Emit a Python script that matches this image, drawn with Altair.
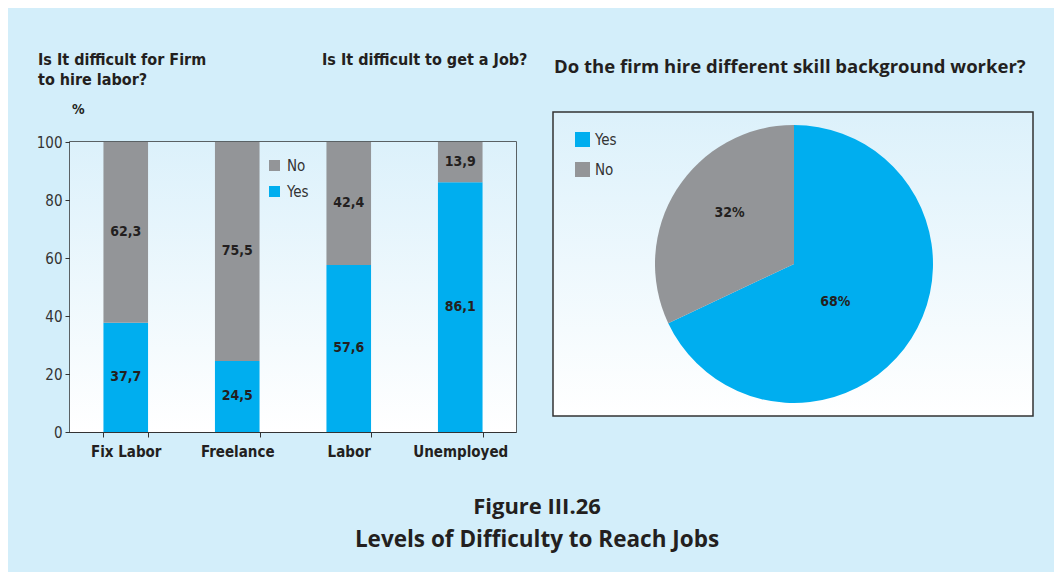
import altair as alt
import pandas as pd

categories = ["Fix Labor", "Freelance", "Labor", "Unemployed"]
yes_vals = [37.7, 24.5, 57.6, 86.1]
no_vals = [62.3, 75.5, 42.4, 13.9]
pie_labels = ["Yes", "No"]
pie_vals = [68, 32]

BLUE = "#00aeef"
GREY = "#939598"
BG = "#d3eefa"
TXT = "#231f20"
NARROW = "DejaVu Sans Condensed, Roboto"
MAIN = "Open Sans"

rows = []
for c, y, n in zip(categories, yes_vals, no_vals):
    rows.append({"cat": c, "answer": "Yes", "val": y, "ord": 0, "mid": y / 2,
                 "lbl": f"{y:.1f}".replace(".", ",")})
    rows.append({"cat": c, "answer": "No", "val": n, "ord": 1, "mid": y + n / 2,
                 "lbl": f"{n:.1f}".replace(".", ",")})
bars_df = pd.DataFrame(rows)

pie_df = pd.DataFrame({"pans": pie_labels, "pval": pie_vals, "pord": [0, 1],
                       "plbl": [f"{v}%" for v in pie_vals]})

one = pd.DataFrame({"k": [0]})

W, H = 446, 290

grad = alt.Gradient(gradient="linear", x1=0, y1=0, x2=0, y2=1,
                    stops=[alt.GradientStop(offset=0, color="#dcf1fb"),
                           alt.GradientStop(offset=1, color="#ffffff")])

plot_bg = alt.Chart(one).mark_rect(fill=grad).encode(
    x=alt.value(0), x2=alt.value(W), y=alt.value(0), y2=alt.value(H))

pie_box = alt.Chart(one).mark_rect(fill=grad, stroke="#333333", strokeWidth=1.5).encode(
    x=alt.value(483), x2=alt.value(963), y=alt.value(-30), y2=alt.value(274))

xenc = alt.X("cat:N", sort=categories, title=None,
             scale=alt.Scale(paddingInner=0.6, paddingOuter=0.3),
             axis=alt.Axis(labelFont=NARROW, labelFontSize=15, labelFontWeight="bold",
                           labelColor=TXT, tickBand="extent", tickSize=5, tickColor="#333333",
                           domainColor="#333333", labelPadding=7, labelAngle=0))

bars = alt.Chart(bars_df).mark_bar().encode(
    x=xenc,
    y=alt.Y("val:Q", stack="zero", title=None,
            scale=alt.Scale(domain=[0, 100], nice=False),
            axis=alt.Axis(values=[0, 20, 40, 60, 80, 100], grid=False, labelFont=NARROW,
                          labelFontSize=15, labelColor="#333333", tickSize=5,
                          tickColor="#333333", domainColor="#333333", labelPadding=3)),
    color=alt.Color("answer:N", scale=alt.Scale(domain=["No", "Yes"], range=[GREY, BLUE]),
                    legend=alt.Legend(title=None, orient="none", legendX=197, legendY=16,
                                      symbolType="square", symbolSize=121, labelFont=NARROW,
                                      labelFontSize=15, labelColor="#333333", rowPadding=10,
                                      padding=0, labelOffset=5, symbolStrokeWidth=0)),
    order=alt.Order("ord:Q"),
)

bar_text = alt.Chart(bars_df).mark_text(font=NARROW, fontSize=14, fontWeight="bold",
                                        color=TXT).encode(
    x=alt.X("cat:N", sort=categories),
    y=alt.Y("mid:Q"),
    text="lbl:N",
)

pie = alt.Chart(pie_df).mark_arc().encode(
    theta=alt.Theta("pval:Q", stack=True),
    color=alt.Color("pans:N", scale=alt.Scale(domain=["Yes", "No"], range=[BLUE, GREY]),
                    legend=alt.Legend(title=None, orient="none", legendX=505, legendY=-10,
                                      symbolType="square", symbolSize=225, labelFont=NARROW,
                                      labelFontSize=15, labelColor="#333333", rowPadding=14,
                                      padding=0, labelOffset=5, symbolStrokeWidth=0)),
    order=alt.Order("pord:Q"),
    x=alt.value(724), y=alt.value(122), radius=alt.value(139),
)

pie_yes = alt.Chart(pie_df).transform_calculate(
    t="datum.pans == 'Yes' ? datum.plbl : ''").mark_text(
    font=NARROW, fontSize=14, fontWeight="bold", color=TXT, dx=-6, dy=8).encode(
    theta=alt.Theta("pval:Q", stack=True), order=alt.Order("pord:Q"),
    x=alt.value(724), y=alt.value(122), radius=alt.value(56), text="t:N")

pie_no = alt.Chart(pie_df).transform_calculate(
    t="datum.pans == 'No' ? datum.plbl : ''").mark_text(
    font=NARROW, fontSize=14, fontWeight="bold", color=TXT, dx=3, dy=-8).encode(
    theta=alt.Theta("pval:Q", stack=True), order=alt.Order("pord:Q"),
    x=alt.value(724), y=alt.value(122), radius=alt.value(80), text="t:N")

def label(txt, x, y, size, font, align="left", weight="bold"):
    return alt.Chart(one).mark_text(text=txt, font=font, fontSize=size, fontWeight=weight,
                                    color=TXT, align=align, baseline="alphabetic",
                                    lineHeight=20).encode(x=alt.value(x), y=alt.value(y))

t1 = label(["Is It difficult for Firm", "to hire labor?"], -32, -77, 16, NARROW)
t2 = label("Is It difficult to get  a Job?", 252, -77, 16, NARROW)
pct = label("%", 2, -28, 14, NARROW)
t3 = label("Do the firm hire different skill background worker?", 484, -69, 18.5, MAIN)
f1 = label("Figure III.26", 467, 372, 22, MAIN, align="center")
f2 = label("Levels of Difficulty to Reach Jobs", 467, 405, 22.5, MAIN, align="center")

chart = alt.layer(plot_bg, bars, bar_text, pie_box, pie, pie_yes, pie_no,
                  t1, t2, pct, t3, f1, f2).resolve_scale(color="independent").properties(
    width=W, height=H,
    autosize=alt.AutoSizeParams(type="none"),
    padding={"left": 62, "top": 134, "right": 538, "bottom": 140},
    background=BG,
).configure_view(stroke="#333333", strokeWidth=1.5)

chart.save("out.html", embed_options={"renderer": "svg", "actions": False})
